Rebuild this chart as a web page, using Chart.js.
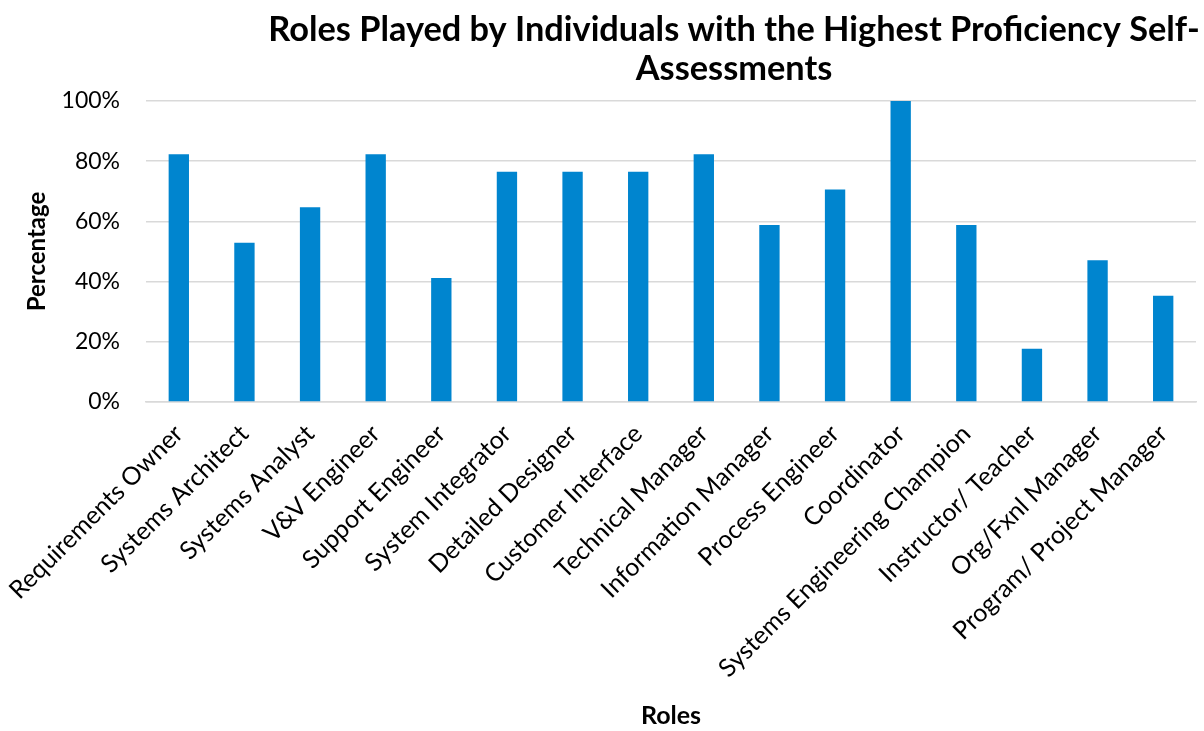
<!DOCTYPE html>
<html>
<head>
<meta charset="utf-8">
<script src="https://cdn.jsdelivr.net/npm/chart.js@4/dist/chart.umd.min.js"></script>
<style>
  html, body { margin: 0; padding: 0; background: #fff; }
  #wrap { width: 1204px; height: 731px; }
</style>
</head>
<body>
<div id="wrap"><canvas id="chart" width="1204" height="731"></canvas></div>
<script>
var roles = ["Requirements Owner", "Systems Architect", "Systems Analyst", "V&V Engineer",
  "Support Engineer", "System Integrator", "Detailed Designer", "Customer Interface",
  "Technical Manager", "Information Manager", "Process Engineer", "Coordinator",
  "Systems Engineering Champion", "Instructor/ Teacher", "Org/Fxnl Manager", "Program/ Project Manager"]
// share of respondents
var percentages = [0.8235, 0.5294, 0.6471, 0.8235, 0.4118, 0.7647, 0.7647, 0.7647,
  0.8235, 0.5882, 0.7059, 1.0, 0.5882, 0.1765, 0.4706, 0.3529]
var yTicks = [0, 0.2, 0.4, 0.6, 0.8, 1.0]
var titleLines = ["Roles Played by Individuals with the Highest Proficiency Self-", "Assessments"]

var fontFam = "Lato, 'Open Sans', sans-serif"

// title is centred a bit right of the middle like the original, so draw it by hand
var titlePlugin = {
  id: "offsetTitle",
  afterDraw: function(chart) {
    var ctx = chart.ctx
    ctx.save()
    var size = 36
    ctx.font = "bold " + size + "px " + fontFam
    var w = ctx.measureText(titleLines[0]).width
    if (w > 932) {
      size = size * 932 / w
      ctx.font = "bold " + size + "px " + fontFam
    }
    ctx.fillStyle = "#000"
    ctx.textAlign = "center"
    ctx.textBaseline = "middle"
    ctx.fillText(titleLines[0], 734, 30)
    ctx.fillText(titleLines[1], 734, 69)
    ctx.restore()
  }
}

var ctx = document.getElementById("chart")
var barChart = new Chart(ctx, {
  type: 'bar',
  data: {
    labels: roles,
    datasets: [{
      data: percentages,
      backgroundColor: 'rgb(0,133,207)',
      borderWidth: 0,
      barPercentage: 0.31,
      categoryPercentage: 1.0
    }]
  },
  options: {
    responsive: false,
    animation: false,
    layout: { padding: { top: 101, right: 8, bottom: 0, left: 0 } },
    plugins: {
      legend: { display: false },
      tooltip: { enabled: false }
    },
    scales: {
      x: {
        grid: { display: false },
        border: { display: true, color: '#d9d9d9', width: 1.5 },
        ticks: {
          color: '#000',
          font: { family: fontFam, size: 25 },
          minRotation: 45,
          maxRotation: 45,
          autoSkip: false,
          padding: 9
        },
        title: {
          display: true,
          text: 'Roles',
          color: '#000',
          font: { family: fontFam, size: 25, weight: 'bold' },
          padding: { top: 0, bottom: 0 }
        },
        afterFit: function(scale) { scale.height = 329 }
      },
      y: {
        min: 0,
        max: 1,
        afterBuildTicks: function(scale) {
          scale.ticks = yTicks.map(function(v) { return { value: v } })
        },
        grid: { color: '#d9d9d9', lineWidth: 1.5, drawTicks: false },
        border: { display: false },
        ticks: {
          color: '#000',
          font: { family: fontFam, size: 23 },
          padding: 26,
          callback: function(v) { return Math.round(v * 100) + '%' }
        },
        title: {
          display: true,
          text: 'Percentage',
          color: '#000',
          font: { family: fontFam, size: 24, weight: 'bold' },
          padding: { top: 23, bottom: 0 }
        },
        afterFit: function(scale) { scale.width = 146 }
      }
    }
  },
  plugins: [titlePlugin]
})
</script>
</body>
</html>
